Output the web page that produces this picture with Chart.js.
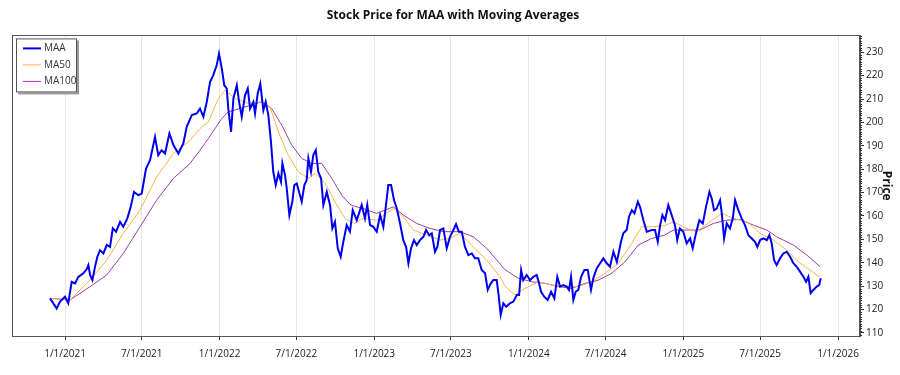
<!DOCTYPE html>
<html>
<head>
<meta charset="utf-8">
<script src="https://cdn.jsdelivr.net/npm/chart.js@4.4.1/dist/chart.umd.min.js"></script>
<style>
  html, body { margin: 0; padding: 0; background: #fff; }
  #wrap { width: 900px; height: 375px; position: relative; }
</style>
</head>
<body>
<div id="wrap"><canvas id="myChart"></canvas></div>
<script>
// dates are decimal years
const priceT = [2020.903,2020.946,2020.968,2021.000,2021.021,2021.043,2021.065,2021.086,2021.118,2021.140,2021.151,2021.162,2021.177,2021.194,2021.209,2021.226,2021.248,2021.270,2021.291,2021.309,2021.330,2021.356,2021.377,2021.403,2021.425,2021.446,2021.474,2021.496,2021.524,2021.550,2021.582,2021.603,2021.625,2021.647,2021.675,2021.701,2021.733,2021.765,2021.787,2021.820,2021.852,2021.873,2021.895,2021.917,2021.938,2021.959,2021.981,2021.996,2022.014,2022.030,2022.046,2022.056,2022.074,2022.089,2022.111,2022.126,2022.143,2022.164,2022.182,2022.197,2022.218,2022.229,2022.246,2022.263,2022.283,2022.298,2022.315,2022.332,2022.347,2022.363,2022.380,2022.397,2022.406,2022.423,2022.434,2022.451,2022.470,2022.483,2022.499,2022.514,2022.531,2022.548,2022.563,2022.574,2022.591,2022.606,2022.622,2022.638,2022.656,2022.671,2022.693,2022.714,2022.729,2022.746,2022.764,2022.783,2022.800,2022.822,2022.843,2022.861,2022.887,2022.919,2022.940,2022.955,2022.973,2022.994,2023.016,2023.038,2023.059,2023.076,2023.091,2023.109,2023.128,2023.146,2023.167,2023.188,2023.206,2023.221,2023.238,2023.257,2023.275,2023.296,2023.318,2023.335,2023.356,2023.372,2023.393,2023.408,2023.426,2023.447,2023.469,2023.490,2023.512,2023.529,2023.547,2023.566,2023.587,2023.609,2023.631,2023.652,2023.673,2023.695,2023.717,2023.734,2023.754,2023.770,2023.792,2023.803,2023.818,2023.835,2023.853,2023.878,2023.900,2023.922,2023.937,2023.950,2023.964,2023.986,2024.008,2024.029,2024.051,2024.066,2024.079,2024.100,2024.122,2024.144,2024.165,2024.184,2024.202,2024.223,2024.245,2024.260,2024.273,2024.288,2024.303,2024.320,2024.338,2024.359,2024.381,2024.402,2024.417,2024.439,2024.461,2024.482,2024.504,2024.525,2024.547,2024.569,2024.583,2024.596,2024.611,2024.633,2024.648,2024.666,2024.683,2024.705,2024.719,2024.741,2024.763,2024.795,2024.816,2024.834,2024.849,2024.864,2024.881,2024.902,2024.924,2024.945,2024.960,2024.977,2024.999,2025.021,2025.043,2025.060,2025.081,2025.103,2025.125,2025.146,2025.168,2025.183,2025.198,2025.215,2025.237,2025.248,2025.263,2025.280,2025.301,2025.319,2025.334,2025.355,2025.377,2025.398,2025.420,2025.442,2025.463,2025.478,2025.496,2025.517,2025.539,2025.556,2025.571,2025.586,2025.603,2025.625,2025.646,2025.668,2025.690,2025.711,2025.733,2025.754,2025.776,2025.793,2025.808,2025.823,2025.840,2025.862,2025.878,2025.888];
const priceV = [124.8,120.5,123.4,125.5,122.7,131.9,131.2,134.0,135.5,137.2,139.0,134.8,132.6,138.3,142.6,145.4,144.0,147.6,146.8,154.7,153.3,157.5,155.4,159.0,163.9,170.3,168.9,169.6,180.3,183.9,193.8,186.0,188.1,186.7,195.3,190.3,186.7,191.0,198.1,203.1,203.8,205.9,202.4,208.8,217.3,220.2,224.4,229.4,223.0,215.9,214.5,205.9,196.0,210.2,215.9,208.8,202.4,211.6,214.5,205.9,208.8,203.8,212.3,216.6,205.2,208.8,203.1,191.7,178.9,173.2,178.2,174.6,182.5,177.5,171.8,160.4,166.1,173.2,173.9,170.3,166.1,173.2,175.3,184.6,178.9,186.0,188.1,178.9,176.1,164.7,170.3,164.7,154.7,157.5,146.2,142.6,149.0,156.1,153.3,162.5,158.2,164.7,159.0,164.7,156.1,155.4,153.3,160.4,155.4,164.7,173.2,173.2,166.8,163.2,156.8,149.7,146.8,139.8,146.2,149.7,147.6,149.7,151.1,154.0,151.8,152.6,144.7,146.8,154.0,154.7,146.2,151.1,154.0,156.5,153.3,153.3,146.8,143.3,144.0,141.9,141.9,136.9,135.5,128.4,131.2,132.6,132.6,127.0,117.7,122.7,121.2,122.7,123.4,126.2,126.2,136.9,132.6,134.8,132.6,134.0,134.8,131.2,127.6,125.5,124.1,127.6,124.8,134.0,129.8,130.5,129.8,128.4,134.0,124.1,127.6,128.4,134.0,136.9,136.9,128.4,133.4,137.6,139.8,141.9,139.8,138.3,144.7,140.4,144.7,149.0,152.6,154.0,159.7,162.5,161.1,166.1,163.9,158.2,153.3,154.0,154.0,149.0,156.0,160.4,158.2,164.7,160.4,156.1,149.7,154.7,153.3,148.3,150.4,146.2,152.6,158.2,156.8,163.9,170.3,167.5,162.5,163.2,166.8,161.1,150.4,156.8,154.7,159.0,166.8,162.5,159.0,156.1,151.8,150.4,149.0,146.8,149.7,150.4,149.7,151.8,148.3,141.2,139.0,141.9,144.0,144.7,142.6,139.8,138.3,136.2,134.0,131.9,134.0,127.0,128.4,129.8,130.5,133.4];

const ma50T = [2020.903,2021.032,2021.162,2021.270,2021.377,2021.485,2021.593,2021.701,2021.809,2021.873,2021.927,2021.992,2022.035,2022.100,2022.186,2022.272,2022.326,2022.380,2022.444,2022.509,2022.574,2022.617,2022.682,2022.746,2022.811,2022.871,2022.929,2023.016,2023.124,2023.188,2023.253,2023.340,2023.426,2023.490,2023.555,2023.641,2023.727,2023.814,2023.846,2023.878,2023.911,2023.976,2024.062,2024.148,2024.235,2024.320,2024.407,2024.493,2024.579,2024.666,2024.730,2024.795,2024.877,2024.935,2025.021,2025.086,2025.172,2025.248,2025.323,2025.410,2025.496,2025.582,2025.668,2025.754,2025.819,2025.878];
const ma50V = [124.8,124.1,132.6,141.2,152.6,162.5,176.7,186.7,192.4,197.4,200.2,210.2,213.8,210.2,208.1,208.8,206.6,196.0,186.0,178.9,176.1,178.2,173.9,166.1,159.0,156.8,159.0,158.2,163.2,159.7,154.0,151.8,149.7,150.4,152.6,146.8,141.2,134.0,130.0,128.0,126.2,129.1,131.9,130.5,129.8,129.8,131.9,135.5,139.8,148.3,155.4,155.4,155.8,157.5,154.7,153.3,157.5,161.1,159.0,157.5,152.6,149.7,145.4,139.8,136.9,134.0];

const ma100T = [2020.903,2021.032,2021.162,2021.270,2021.377,2021.485,2021.593,2021.701,2021.809,2021.873,2021.927,2022.014,2022.056,2022.164,2022.272,2022.337,2022.402,2022.466,2022.531,2022.596,2022.660,2022.725,2022.790,2022.843,2022.871,2022.929,2023.016,2023.124,2023.188,2023.275,2023.361,2023.447,2023.555,2023.641,2023.727,2023.792,2023.846,2023.932,2024.017,2024.105,2024.191,2024.278,2024.363,2024.450,2024.536,2024.622,2024.708,2024.795,2024.877,2024.935,2025.021,2025.107,2025.193,2025.280,2025.366,2025.453,2025.539,2025.603,2025.711,2025.798,2025.884];
const ma100V = [124.8,124.1,129.8,134.8,144.0,155.4,166.8,176.1,182.5,188.1,193.1,201.7,204.5,206.6,208.8,205.9,198.8,190.3,184.6,182.5,182.5,176.1,168.9,165.0,164.2,163.2,161.1,163.9,160.4,156.8,154.7,153.3,153.3,151.1,146.2,141.2,137.0,133.4,131.9,131.2,129.8,129.1,131.2,132.6,135.5,140.4,147.6,150.4,151.8,154.0,154.0,154.0,156.8,158.2,158.5,156.1,154.0,151.1,147.6,143.3,138.3];

const xTickVals = [2021,2021.496,2022,2022.496,2023,2023.496,2024,2024.497,2025,2025.496,2026];
const xTickLabels = ["1/1/2021","7/1/2021","1/1/2022","7/1/2022","1/1/2023","7/1/2023","1/1/2024","7/1/2024","1/1/2025","7/1/2025","1/1/2026"];
const yTickVals = [110,120,130,140,150,160,170,180,190,200,210,220,230];

const seriesNames = ["MAA","MA50","MA100"];
const seriesColors = ["#0000ee","#f5b44a","#9c3fa6"];

const FONT = "'Open Sans', 'Noto Sans', sans-serif";

function pts(t, v) {
  return t.map((x, i) => ({ x: x, y: v[i] }));
}

// frame, minor ticks and boxed legend
const extras = {
  id: "extras",
  afterDraw(chart) {
    const ctx = chart.ctx;
    const a = chart.chartArea;
    const ys = chart.scales.y;
    ctx.save();
    ctx.strokeStyle = "#555";
    ctx.lineWidth = 1;
    ctx.strokeRect(Math.round(a.left) + 0.5, Math.round(a.top) + 0.5,
      Math.round(a.right - a.left) - 1, Math.round(a.bottom - a.top));

    // minor ticks on right axis
    ctx.strokeStyle = "#333";
    ctx.beginPath();
    for (let v = 109; v <= 237; v++) {
      if (v % 10 === 0) continue;
      const py = Math.round(ys.getPixelForValue(v)) + 0.5;
      ctx.moveTo(a.right, py);
      ctx.lineTo(a.right + 2, py);
    }
    ctx.stroke();

    // legend
    const lx = a.left + 4, ly = a.top + 3, lw = 61, lh = 54;
    ctx.fillStyle = "#999";
    ctx.fillRect(lx + 2, ly + 2, lw, lh);
    ctx.fillStyle = "#fff";
    ctx.fillRect(lx, ly, lw, lh);
    ctx.strokeStyle = "#555";
    ctx.strokeRect(lx + 0.5, ly + 0.5, lw - 1, lh - 1);
    ctx.font = "10px " + FONT;
    ctx.textBaseline = "middle";
    chart.data.datasets.forEach((ds, i) => {
      const ry = ly + 10 + i * 16.5;
      ctx.strokeStyle = ds.borderColor;
      ctx.lineWidth = ds.borderWidth;
      ctx.beginPath();
      ctx.moveTo(lx + 7, ry);
      ctx.lineTo(lx + 25, ry);
      ctx.stroke();
      ctx.fillStyle = "#333";
      ctx.fillText(ds.label, lx + 28, ry);
    });
    ctx.restore();
  }
};

new Chart(document.getElementById("myChart"), {
  type: "line",
  data: {
    datasets: [
      { label: seriesNames[0], data: pts(priceT, priceV), borderColor: seriesColors[0], borderWidth: 2, pointRadius: 0, tension: 0 },
      { label: seriesNames[1], data: pts(ma50T, ma50V), borderColor: seriesColors[1], borderWidth: 1, pointRadius: 0, tension: 0 },
      { label: seriesNames[2], data: pts(ma100T, ma100V), borderColor: seriesColors[2], borderWidth: 1, pointRadius: 0, tension: 0 },
    ],
  },
  options: {
    responsive: true,
    maintainAspectRatio: false,
    animation: false,
    layout: { padding: { left: 12, right: 6, top: 0, bottom: 0 } },
    plugins: {
      legend: { display: false },
      tooltip: { enabled: false },
      title: {
        display: true,
        text: "Stock Price for MAA with Moving Averages",
        color: "#111",
        font: { family: FONT, size: 12, weight: "bold" },
        padding: { top: 8, bottom: 13 },
      },
    },
    scales: {
      x: {
        type: "linear",
        min: 2020.657,
        max: 2026.142,
        afterBuildTicks: (s) => { s.ticks = xTickVals.map((v) => ({ value: v })); },
        afterFit: (s) => { s.height = 39; },
        ticks: {
          autoSkip: false,
          maxRotation: 0,
          padding: 8,
          color: "#222",
          font: { family: FONT, size: 10 },
          callback: (v, i) => xTickLabels[i],
        },
        grid: { color: "#e6e6e6", tickColor: "#333", tickLength: 4 },
        border: { display: true, color: "#555" },
      },
      y: {
        position: "right",
        min: 108.7,
        max: 237.2,
        afterBuildTicks: (s) => { s.ticks = yTickVals.map((v) => ({ value: v })); },
        afterFit: (s) => { s.width = 34; },
        ticks: {
          padding: 2,
          color: "#222",
          font: { family: FONT, size: 10 },
        },
        grid: { drawOnChartArea: false, tickColor: "#333", tickLength: 4 },
        border: { display: true, color: "#555" },
        title: {
          display: true,
          text: "Price",
          color: "#111",
          font: { family: FONT, size: 12, weight: "bold" },
          padding: 0,
        },
      },
    },
  },
  plugins: [extras],
});
</script>
</body>
</html>
